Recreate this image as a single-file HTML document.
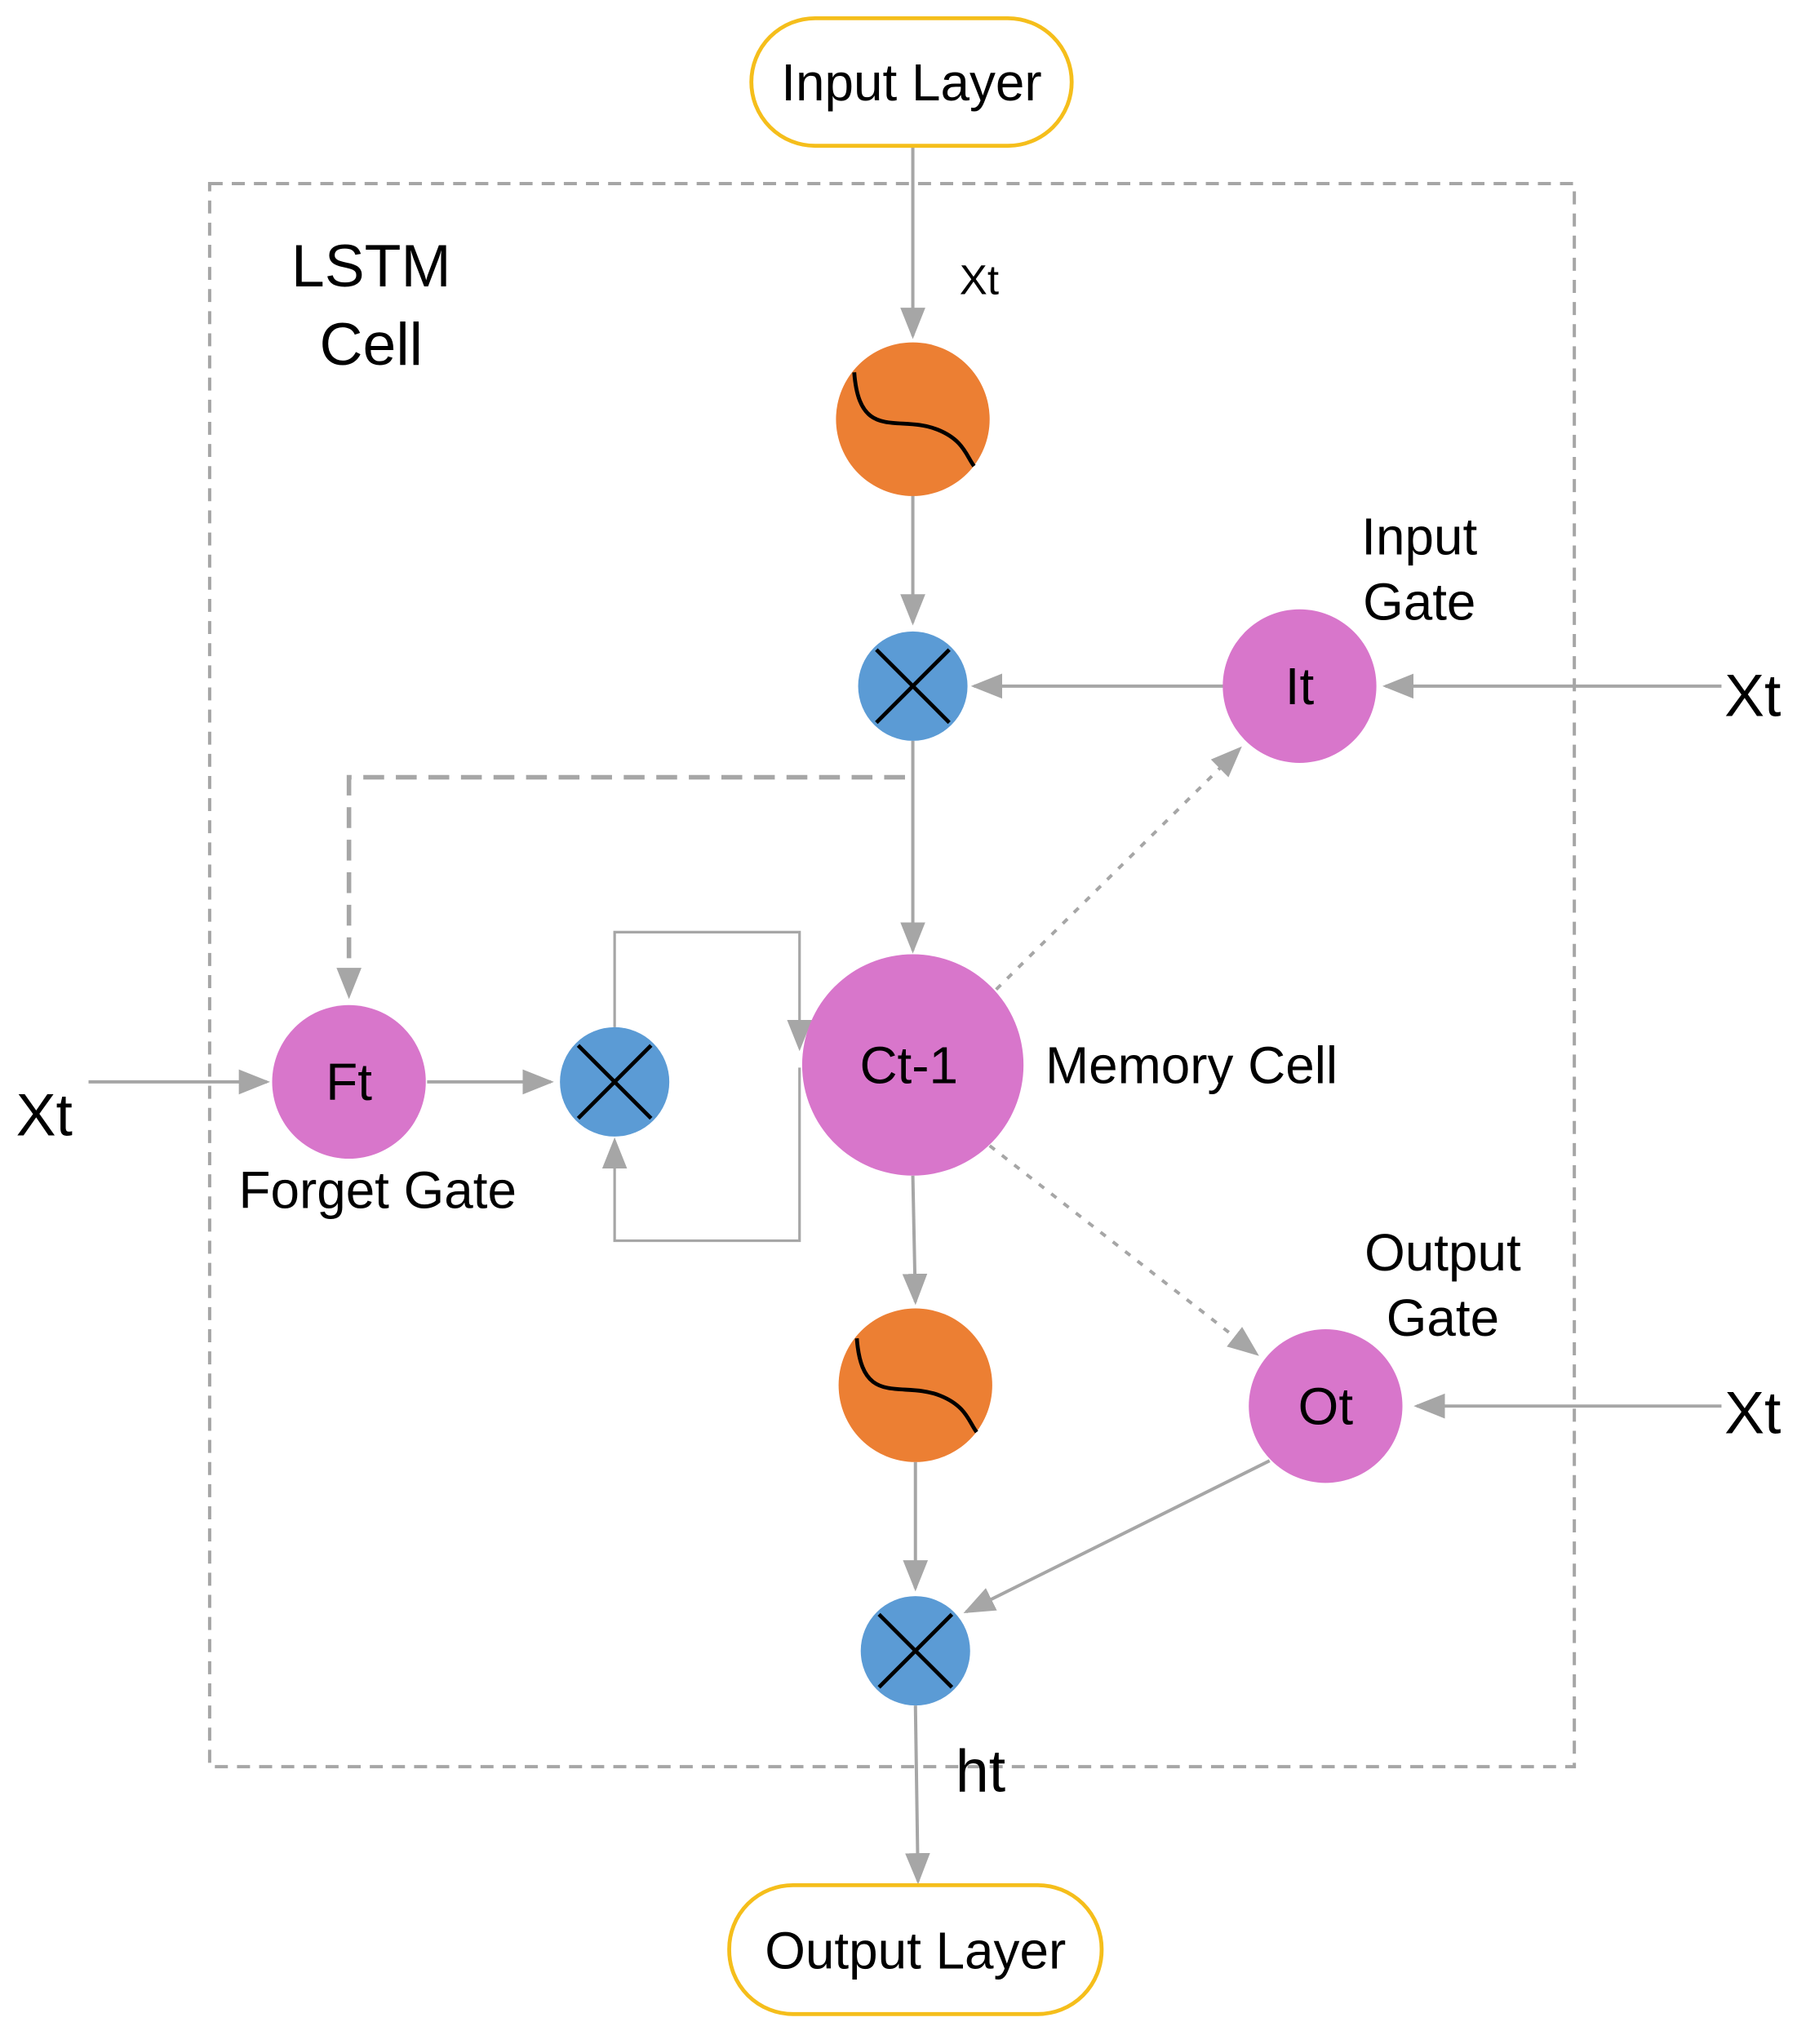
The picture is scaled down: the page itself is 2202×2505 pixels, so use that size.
<!DOCTYPE html>
<html><head><meta charset="utf-8"><style>html,body{margin:0;padding:0;background:#fff}svg{display:block}</style></head>
<body>
<svg width="2202" height="2505" viewBox="0 0 1380 1570" preserveAspectRatio="none" xmlns="http://www.w3.org/2000/svg" font-family="Liberation Sans, Arial, sans-serif">
<defs>
<marker id="a" viewBox="0 0 10 10" refX="9" refY="5" markerWidth="7" markerHeight="7" markerUnits="userSpaceOnUse" orient="auto"><path d="M0,0 L10,5 L0,10 Z" fill="#a6a6a6"/></marker>
<marker id="b" viewBox="0 0 10 10" refX="9" refY="5" markerWidth="24" markerHeight="24" markerUnits="userSpaceOnUse" orient="auto"><path d="M0,1 L10,5 L0,9 Z" fill="#a6a6a6"/></marker>
</defs>
<g stroke="#a6a6a6" fill="none">
<rect x="161" y="141" width="1048" height="1216" stroke-width="2.5" stroke-dasharray="10,7"/>
<line x1="701" y1="112" x2="701" y2="258" stroke-width="2.5" marker-end="url(#b)"/>
<line x1="701" y1="380" x2="701" y2="478" stroke-width="2.5" marker-end="url(#b)"/>
<line x1="940" y1="527" x2="748" y2="527" stroke-width="2.5" marker-end="url(#b)"/>
<line x1="1322" y1="527" x2="1064" y2="527" stroke-width="2.5" marker-end="url(#b)"/>
<path d="M695,597 L268,597 L268,765" stroke-width="3.5" stroke-dasharray="16,9" marker-end="url(#b)"/>
<line x1="701" y1="569" x2="701" y2="730" stroke-width="2.5" marker-end="url(#b)"/>
<line x1="765" y1="760" x2="952" y2="575" stroke-width="2.5" stroke-dasharray="5,7" marker-end="url(#b)"/>
<line x1="68" y1="831" x2="205" y2="831" stroke-width="2.5" marker-end="url(#b)"/>
<line x1="328" y1="831" x2="423" y2="831" stroke-width="2.5" marker-end="url(#b)"/>
<path d="M472,789 L472,716 L614,716 L614,805" stroke-width="2" marker-end="url(#b)"/>
<path d="M614,820 L614,953 L472,953 L472,876" stroke-width="2" marker-end="url(#b)"/>
<line x1="701" y1="903" x2="703" y2="1000" stroke-width="2.5" marker-end="url(#b)"/>
<line x1="760" y1="880" x2="965" y2="1040" stroke-width="2.5" stroke-dasharray="5,7" marker-end="url(#b)"/>
<line x1="1322" y1="1080" x2="1088" y2="1080" stroke-width="2.5" marker-end="url(#b)"/>
<line x1="975" y1="1122" x2="742" y2="1238" stroke-width="2.5" marker-end="url(#b)"/>
<line x1="703" y1="1123" x2="703" y2="1220" stroke-width="2.5" marker-end="url(#b)"/>
<line x1="703" y1="1310" x2="705" y2="1445" stroke-width="2.5" marker-end="url(#b)"/>
</g>
<rect x="577" y="14" width="246" height="98" rx="49" fill="#fff" stroke="#F5BE1B" stroke-width="3"/>
<rect x="560" y="1448" width="286" height="99" rx="49" fill="#fff" stroke="#F5BE1B" stroke-width="3"/>
<circle cx="701" cy="322" r="59" fill="#EC7F33"/>
<path d="M656,286 C660,340 690,318 720,330 C740,338 742,350 748,358" stroke="#000" stroke-width="3" fill="none"/>
<circle cx="703" cy="1064" r="59" fill="#EC7F33"/>
<path d="M658,1028 C662,1082 692,1060 722,1072 C742,1080 744,1092 750,1100" stroke="#000" stroke-width="3" fill="none"/>
<g stroke="#000" stroke-width="3">
<circle cx="701" cy="527" r="42" fill="#5B9BD5" stroke="none"/>
<line x1="673" y1="499" x2="729" y2="555"/><line x1="729" y1="499" x2="673" y2="555"/>
<circle cx="472" cy="831" r="42" fill="#5B9BD5" stroke="none"/>
<line x1="444" y1="803" x2="500" y2="859"/><line x1="500" y1="803" x2="444" y2="859"/>
<circle cx="703" cy="1268" r="42" fill="#5B9BD5" stroke="none"/>
<line x1="675" y1="1240" x2="731" y2="1296"/><line x1="731" y1="1240" x2="675" y2="1296"/>
</g>
<circle cx="998" cy="527" r="59" fill="#D876CB"/>
<circle cx="268" cy="831" r="59" fill="#D876CB"/>
<circle cx="701" cy="818" r="85" fill="#D876CB"/>
<circle cx="1018" cy="1080" r="59" fill="#D876CB"/>
<g fill="#000" text-anchor="middle">
<text x="700" y="77" font-size="40">Input Layer</text>
<text x="703" y="1512" font-size="40">Output Layer</text>
<text x="285" y="220" font-size="46">LSTM</text>
<text x="285" y="280" font-size="46">Cell</text>
<text x="752" y="226" font-size="32">Xt</text>
<text x="1090" y="426" font-size="40">Input</text>
<text x="1090" y="476" font-size="40">Gate</text>
<text x="998" y="541" font-size="40">It</text>
<text x="1346" y="550" font-size="46">Xt</text>
<text x="34" y="872" font-size="46">Xt</text>
<text x="268" y="845" font-size="40">Ft</text>
<text x="698" y="832" font-size="40">Ct-1</text>
<text x="915" y="832" font-size="40">Memory Cell</text>
<text x="290" y="928" font-size="40">Forget Gate</text>
<text x="1108" y="976" font-size="40">Output</text>
<text x="1108" y="1026" font-size="40">Gate</text>
<text x="1018" y="1094" font-size="40">Ot</text>
<text x="1346" y="1101" font-size="46">Xt</text>
<text x="753" y="1376" font-size="46">ht</text>
</g>
</svg>
</body></html>
